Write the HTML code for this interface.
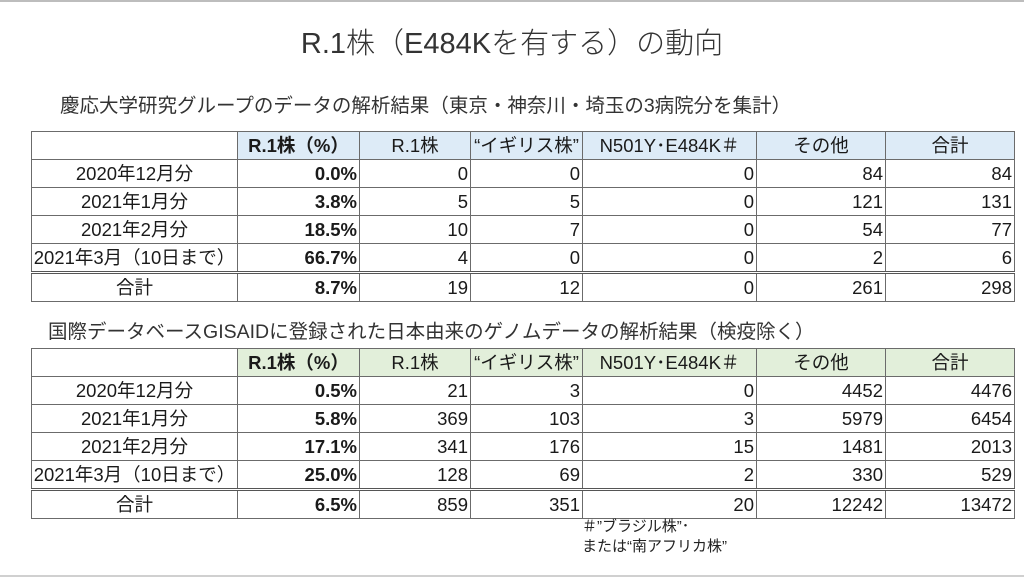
<!DOCTYPE html>
<html><head><meta charset="utf-8"><style>
body{margin:0;width:1024px;height:578px;background:#fff;position:relative;overflow:hidden;font-family:"Liberation Sans","Noto Sans CJK JP",sans-serif;color:#1a1a1a}
.top{position:absolute;left:0;top:0;width:1024px;height:2px;background:#bdbdbd}
.bot{position:absolute;left:0;top:575px;width:1024px;height:2px;background:#d0d0d0}
.title{position:absolute;left:0;width:1024px;top:20px;text-align:center;font-size:29px;font-weight:300;color:#333}
.sub{position:absolute;font-size:19.5px;color:#333;white-space:nowrap}
table{position:absolute;left:31px;width:983px;border-collapse:collapse;table-layout:fixed;font-size:18.5px}
td{border:1px solid #6b6b6b;padding:0 2px;height:27px;line-height:22px;vertical-align:middle;text-align:right;white-space:nowrap;overflow:hidden}
td.l{text-align:center;padding:0}
td.b{font-weight:bold}
tr.h td{text-align:center}
tr.t td{border-top:3px double #555}
.t1 tr.h td:not(:first-child){background:#ddebf7}
.t2 tr.h td:not(:first-child){background:#e2efda}
.note{position:absolute;left:582px;top:517px;font-size:15px;line-height:20px;color:#222}
</style></head><body>
<div class="top"></div><div class="bot"></div>
<div class="title">R.1株（E484Kを有する）の動向</div>
<div class="sub" style="left:60px;top:89px">慶応大学研究グループのデータの解析結果（東京・神奈川・埼玉の3病院分を集計）</div>
<table class="t1" style="top:131px">
<colgroup><col style="width:206px"><col style="width:122px"><col style="width:111px"><col style="width:112px"><col style="width:174px"><col style="width:129px"><col style="width:129px"></colgroup>
<tr class="h"><td></td><td class="b">R.1株（%）</td><td>R.1株</td><td>“イギリス株”</td><td>N501Y･E484K＃</td><td>その他</td><td>合計</td></tr>
<tr><td class="l">2020年12月分</td><td class="b">0.0%</td><td>0</td><td>0</td><td>0</td><td>84</td><td>84</td></tr>
<tr><td class="l">2021年1月分</td><td class="b">3.8%</td><td>5</td><td>5</td><td>0</td><td>121</td><td>131</td></tr>
<tr><td class="l">2021年2月分</td><td class="b">18.5%</td><td>10</td><td>7</td><td>0</td><td>54</td><td>77</td></tr>
<tr><td class="l">2021年3月（10日まで）</td><td class="b">66.7%</td><td>4</td><td>0</td><td>0</td><td>2</td><td>6</td></tr>
<tr class="t"><td class="l">合計</td><td class="b">8.7%</td><td>19</td><td>12</td><td>0</td><td>261</td><td>298</td></tr>
</table>
<div class="sub" style="left:48px;top:315px">国際データベースGISAIDに登録された日本由来のゲノムデータの解析結果（検疫除く）</div>
<table class="t2" style="top:348px">
<colgroup><col style="width:206px"><col style="width:122px"><col style="width:111px"><col style="width:112px"><col style="width:174px"><col style="width:129px"><col style="width:129px"></colgroup>
<tr class="h"><td></td><td class="b">R.1株（%）</td><td>R.1株</td><td>“イギリス株”</td><td>N501Y･E484K＃</td><td>その他</td><td>合計</td></tr>
<tr><td class="l">2020年12月分</td><td class="b">0.5%</td><td>21</td><td>3</td><td>0</td><td>4452</td><td>4476</td></tr>
<tr><td class="l">2021年1月分</td><td class="b">5.8%</td><td>369</td><td>103</td><td>3</td><td>5979</td><td>6454</td></tr>
<tr><td class="l">2021年2月分</td><td class="b">17.1%</td><td>341</td><td>176</td><td>15</td><td>1481</td><td>2013</td></tr>
<tr><td class="l">2021年3月（10日まで）</td><td class="b">25.0%</td><td>128</td><td>69</td><td>2</td><td>330</td><td>529</td></tr>
<tr class="t"><td class="l">合計</td><td class="b">6.5%</td><td>859</td><td>351</td><td>20</td><td>12242</td><td>13472</td></tr>
</table>
<div class="note">＃”ブラジル株”･<br>または“南アフリカ株”</div>
</body></html>
